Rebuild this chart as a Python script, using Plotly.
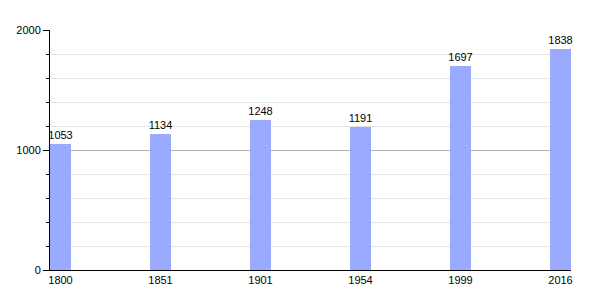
import plotly.graph_objects as go

years = ["1800", "1851", "1901", "1954", "1999", "2016"]
population = [1053, 1134, 1248, 1191, 1697, 1838]
y_ticks = [0, 1000, 2000]

fig = go.Figure(go.Bar(
    x=years, y=population,
    marker=dict(color="#99AAFF", line=dict(width=0)),
    width=0.21,
    text=[str(v) for v in population],
    textposition="outside",
    constraintext="none",
    textfont=dict(family="Liberation Sans", size=11, color="black"),
    cliponaxis=False,
))

fig.update_layout(
    width=600, height=300,
    margin=dict(l=50, r=29, t=30, b=30),
    plot_bgcolor="white", paper_bgcolor="white",
    showlegend=False,
    font=dict(family="Liberation Sans", size=11, color="black"),
    bargap=0,
)
fig.update_xaxes(
    type="category", range=[-0.105, 5.105],
    showline=True, linecolor="black", linewidth=1,
    ticks="", showgrid=False, tickfont=dict(size=11),
)
fig.update_yaxes(
    range=[0, 2000], tickvals=y_ticks,
    showline=True, linecolor="black", linewidth=1,
    ticks="outside", ticklen=6, tickcolor="black",
    showgrid=True, gridcolor="#b0b0b0", gridwidth=1,
    zeroline=False,
    minor=dict(dtick=200, showgrid=True, gridcolor="#e4e4e4",
               ticks="outside", ticklen=3, tickcolor="black"),
    tickfont=dict(size=11),
)

fig.write_html("out.html")
